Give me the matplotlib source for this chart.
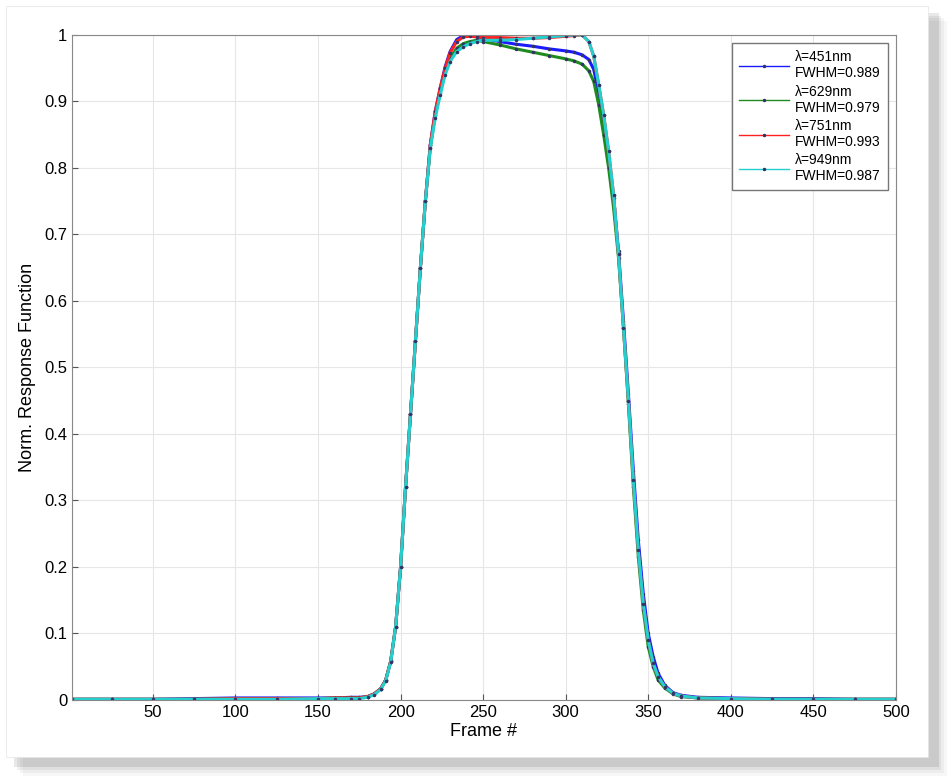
import numpy as np
import matplotlib.pyplot as plt
from matplotlib.patches import Rectangle

plt.rcParams['font.family'] = ['Liberation Sans', 'DejaVu Sans']

frames = [1, 25, 50, 75, 100, 125, 150, 160, 170, 175, 180, 184, 188, 191, 194,
          197, 200, 203, 206, 209, 212, 215, 218, 221, 224, 227, 230, 234, 238,
          242, 246, 250, 260, 270, 280, 290, 300, 305, 310, 314, 317, 320, 323,
          326, 329, 332, 335, 338, 341, 344, 347, 350, 353, 356, 360, 365, 370,
          380, 400, 425, 450, 475, 500]

resp_451 = [0.001, 0.001, 0.001, 0.002, 0.003, 0.003, 0.003, 0.003, 0.004, 0.004,
            0.005, 0.009, 0.017, 0.03, 0.058, 0.11, 0.2, 0.32, 0.43, 0.54, 0.65,
            0.75, 0.835, 0.885, 0.92, 0.952, 0.975, 0.993, 0.999, 1.0, 0.998,
            0.995, 0.99, 0.986, 0.983, 0.979, 0.976, 0.974, 0.97, 0.963, 0.948,
            0.912, 0.866, 0.815, 0.755, 0.675, 0.57, 0.46, 0.345, 0.24, 0.16, 0.1,
            0.065, 0.04, 0.022, 0.011, 0.007, 0.004, 0.003, 0.002, 0.002, 0.001,
            0.001]
resp_629 = [0.001, 0.001, 0.001, 0.001, 0.002, 0.002, 0.002, 0.003, 0.003, 0.003,
            0.005, 0.009, 0.017, 0.03, 0.058, 0.11, 0.2, 0.32, 0.43, 0.54, 0.65,
            0.75, 0.83, 0.88, 0.913, 0.945, 0.965, 0.98, 0.987, 0.99, 0.992,
            0.99, 0.985, 0.979, 0.974, 0.969, 0.964, 0.961, 0.956, 0.946, 0.93,
            0.895, 0.85, 0.8, 0.74, 0.665, 0.56, 0.445, 0.32, 0.215, 0.135, 0.08,
            0.05, 0.03, 0.018, 0.009, 0.005, 0.003, 0.002, 0.001, 0.001, 0.001,
            0.001]
resp_751 = [0.001, 0.001, 0.001, 0.001, 0.002, 0.002, 0.002, 0.003, 0.003, 0.003,
            0.005, 0.009, 0.017, 0.03, 0.058, 0.11, 0.2, 0.32, 0.43, 0.54, 0.65,
            0.75, 0.835, 0.885, 0.92, 0.95, 0.973, 0.99, 0.997, 0.998, 0.997,
            0.996, 0.996, 0.995, 0.995, 0.996, 0.998, 0.999, 1.0, 0.99, 0.968,
            0.925, 0.88, 0.825, 0.76, 0.67, 0.56, 0.45, 0.33, 0.225, 0.145, 0.09,
            0.055, 0.035, 0.02, 0.01, 0.006, 0.003, 0.002, 0.001, 0.001, 0.001,
            0.001]
resp_949 = [0.001, 0.001, 0.001, 0.001, 0.001, 0.001, 0.002, 0.002, 0.002, 0.002,
            0.004, 0.008, 0.016, 0.029, 0.057, 0.11, 0.2, 0.32, 0.43, 0.54, 0.65,
            0.75, 0.83, 0.875, 0.91, 0.94, 0.96, 0.975, 0.982, 0.987, 0.99,
            0.992, 0.992, 0.993, 0.995, 0.997, 0.999, 1.0, 1.0, 0.99, 0.968,
            0.925, 0.88, 0.825, 0.76, 0.67, 0.56, 0.45, 0.33, 0.225, 0.145, 0.09,
            0.055, 0.035, 0.02, 0.01, 0.006, 0.003, 0.002, 0.001, 0.001, 0.001,
            0.001]

labels = ['\u03bb=451nm\nFWHM=0.989', '\u03bb=629nm\nFWHM=0.979',
          '\u03bb=751nm\nFWHM=0.993', '\u03bb=949nm\nFWHM=0.987']
colors = ['#1a1aff', '#1f8a1f', '#ff2020', '#22d0d0']

fig = plt.figure(figsize=(9.48, 7.76), dpi=100)
fig.patch.set_facecolor('white')

# soft drop shadow behind the plot panel
for i, a in enumerate([0.03, 0.04, 0.06, 0.09]):
    d = (4 - i) * 0.003
    fig.patches.append(Rectangle((0.012 + d, 0.015 - d * 1.2), 0.975, 0.972,
                                 transform=fig.transFigure, facecolor='black',
                                 alpha=a, edgecolor='none', zorder=0))
fig.patches.append(Rectangle((0.006, 0.024), 0.973, 0.968, transform=fig.transFigure,
                             facecolor='white', edgecolor='#e4e4e4', lw=0.5, zorder=1))

ax = fig.add_axes([0.076, 0.098, 0.869, 0.857])
ax.set_zorder(2)
for y, c, lab in zip([resp_451, resp_629, resp_751, resp_949], colors, labels):
    ax.plot(frames, y, color=c, lw=2.2, marker='.', ms=3, mfc='#333366',
            mec='#333366', label=lab)

ax.set_xlim(1, 500)
ax.set_ylim(0, 1)
ax.set_xticks(np.arange(50, 501, 50))
ax.set_yticks(np.arange(0, 1.01, 0.1))
ax.set_yticklabels(['0', '0.1', '0.2', '0.3', '0.4', '0.5', '0.6', '0.7', '0.8', '0.9', '1'])
ax.tick_params(labelsize=12, direction='in', length=4, color='#555555')
ax.grid(True, color='#e6e6e6', lw=0.8)
for s in ax.spines.values():
    s.set_color('#888888')
ax.set_xlabel('Frame #', fontsize=13, labelpad=2)
ax.set_ylabel('Norm. Response Function', fontsize=13, labelpad=6)

leg = ax.legend(loc='upper right', fontsize=10, handlelength=3.6, fancybox=False,
                framealpha=1, borderpad=0.5, labelspacing=0.3, handletextpad=0.4,
                borderaxespad=0.6)
leg.get_frame().set_edgecolor('#777777')
for h in leg.legend_handles:
    h.set_linewidth(1)

fig.savefig('out.png', dpi=100)
